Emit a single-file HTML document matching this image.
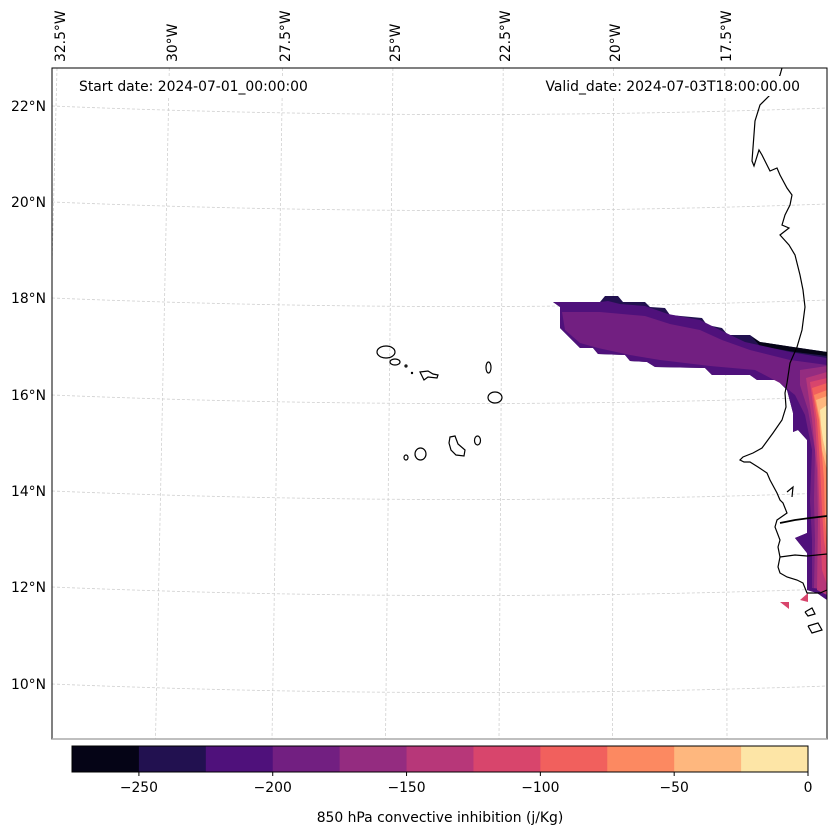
<!DOCTYPE html>
<html><head><meta charset="utf-8"><style>
html,body{margin:0;padding:0;background:#fff}
svg{display:block;font-family:"DejaVu Sans","Liberation Sans",sans-serif}
</style></head><body>
<svg width="837" height="836" viewBox="0 0 837 836">
<defs><clipPath id="pc"><rect x="52" y="68" width="775" height="671"/></clipPath></defs>
<rect x="0" y="0" width="837" height="836" fill="#fff"/>
<g id="grid" clip-path="url(#pc)" stroke="#d0d0d0" stroke-width="0.8" stroke-dasharray="3,2" fill="none"></g>
<g clip-path="url(#pc)">
 <polygon fill="#221150" points="553,302 600,302 605,296 618,296 623,302 645,302 650,307 665,308 670,315 702,318 707,325 722,328 728,335 750,335 760,342 793,347 827,352 827,600 817,593 807,590 807,553 795,538 807,533 807,440 798,430 793,432 793,413 787,390 777,380 757,380 750,375 712,375 705,368 655,367 647,362 630,361 625,355 598,354 593,348 580,348 560,328 560,307"/>
 <polygon fill="#050416" points="752,337 760,342 793,347 827,352 827,356 795,352 760,346"/>
 <polygon fill="#4f117b" points="553,302 600,302 608,301 620,304 645,306 668,314 700,320 720,330 745,342 790,352 827,358 827,600 817,593 807,590 807,553 795,538 807,533 807,440 798,430 793,432 793,413 787,390 777,380 757,380 750,375 712,375 705,368 655,367 647,362 630,361 625,355 598,354 593,348 580,348 560,328 560,307"/>
 <polygon fill="#721f81" points="562,312 600,312 645,316 670,324 700,330 722,340 750,350 790,360 827,365 827,590 812,588 812,540 810,500 812,450 805,415 795,395 780,383 755,370 710,366 660,360 630,355 598,348 580,343 565,330"/>
 <polygon fill="#942c80" points="800,370 827,366 827,590 814,588 815,540 814,500 815,450 808,410 800,385"/>
 <polygon fill="#b73779" points="806,378 827,372 827,595 817,590 818,520 817,470 812,420"/>
 <polygon fill="#d8456c" points="810,382 827,378 827,585 822,570 820,520 818,470 815,420"/>
 <polygon fill="#f1605d" points="812,388 827,383 827,560 824,540 822,510 820,465 817,420"/>
 <polygon fill="#fc8961" points="814,395 827,390 827,545 825,520 824,480 822,455 819,420"/>
 <polygon fill="#feb77e" points="816,400 827,396 827,470 822,450 820,420"/>
 <polygon fill="#fde5a6" points="820,410 827,405 827,458 823,440 821,425"/>
 <polygon fill="#d8456c" points="780,602 789,602 789,609"/>
 <polygon fill="#d8456c" points="800,600 808,593 808,602"/>
</g>
<g clip-path="url(#pc)" fill="none" stroke="#000" stroke-width="1.2">
 <polyline points="782,68 780,75 770,95 760,105 755,121 752,161 754,166 759,150 762,155 770,171 777,168 780,175 787,188 792,195 790,205 785,215 782,225 789,228 780,235 789,245 795,255 800,275 803,290 805,307 802,330 797,347 790,363 787,383 785,393 786,407 782,420 773,433 762,448 753,453 743,457 740,460 744,462 750,462 758,467 767,473 770,480 777,493 780,500 783,503 787,513 777,520 775,527 780,540 778,547 780,557 778,567 780,573 787,577 797,580 803,583 807,593 820,593 827,590"/>
 <polyline points="780,523 795,520 810,518 827,516" stroke-width="1.8"/>
 <polyline points="780,557 795,555 807,556 827,554"/>
 <polyline points="805,612 812,608 815,614 808,616 805,612"/>
 <polyline points="808,626 818,623 822,630 812,633 808,626"/>
 <polyline points="787,492 793,487 792,497"/>
 <ellipse cx="386" cy="352" rx="9" ry="6"/>
 <ellipse cx="395" cy="362" rx="5" ry="3"/>
 <circle cx="406" cy="366" r="1"/>
 <circle cx="412" cy="373" r="0.6"/>
 <polygon points="420,372 428,371 433,374 438,375 437,378 428,377 424,380"/>
 <ellipse cx="488.5" cy="367.5" rx="2.5" ry="5.5"/>
 <ellipse cx="495" cy="397.5" rx="7" ry="5.5"/>
 <ellipse cx="477.5" cy="440.5" rx="3" ry="4.5"/>
 <polygon points="450,437 455,436 458,444 465,450 464,456 456,455 451,450 449,443"/>
 <ellipse cx="420.5" cy="454" rx="5.5" ry="6"/>
 <ellipse cx="406" cy="457.5" rx="2" ry="2.5"/>
</g>
<rect x="52" y="68" width="775" height="671" fill="none" stroke="#000" stroke-width="1"/>
<line x1="52" y1="739" x2="827" y2="739" stroke="#aaa" stroke-width="1.5"/>
<g font-size="13.9" fill="#000">
 <rect x="72" y="76" width="242" height="20" fill="#fff"/>
 <rect x="540" y="76" width="265" height="20" fill="#fff"/>
 <text x="79" y="91">Start date: 2024-07-01_00:00:00</text>
 <text x="800" y="91" text-anchor="end">Valid_date: 2024-07-03T18:00:00.00</text>
</g>
<g id="lonlabels" font-size="13.9"></g>
<g id="latlabels" font-size="13.9"></g>
<g id="cbar"></g>
<text x="440" y="822" font-size="13.9" text-anchor="middle">850 hPa convective inhibition (j/Kg)</text>
</svg>
<script>
const lonLabels=["32.5°W","30°W","27.5°W","25°W","22.5°W","20°W","17.5°W"];
const lonLabelX=[60,172,285,395,505,615,726];
const latLabels=["22°N","20°N","18°N","16°N","14°N","12°N","10°N"];
const latLabelY=[106,202,298,395,491,587,684];
const levels=[-275,-250,-225,-200,-175,-150,-125,-100,-75,-50,-25,0];
const levelColors=["#050416","#221150","#4f117b","#721f81","#942c80","#b73779","#d8456c","#f1605d","#fc8961","#feb77e","#fde5a6"];
const cbTicks=[-250,-200,-150,-100,-50,0];
const NS="http://www.w3.org/2000/svg";
function mk(t,a){const e=document.createElementNS(NS,t);for(const k in a)e.setAttribute(k,a[k]);return e;}
const grid=document.getElementById('grid');
lonLabelX.forEach((x,i)=>{
 const l=mk('line',{x1:x-3+i*0.3,y1:68,x2:x-3-(17-i*3.5),y2:739});
 
 
 grid.appendChild(l);
 const t=mk('text',{x:0,y:0,transform:`translate(${x+5},62) rotate(-90)`});
 
 
 t.textContent=lonLabels[i];
 document.getElementById('lonlabels').appendChild(t);
});
latLabelY.forEach((y,i)=>{
 const p=mk('path',{d:`M52 ${y} Q440 ${y+16} 827 ${y+2}`});
 
 
 grid.appendChild(p);
 const t=mk('text',{x:46,y:y+5,'text-anchor':'end'});
 
 
 t.textContent=latLabels[i];
 document.getElementById('latlabels').appendChild(t);
});
const cb=document.getElementById('cbar');
const cx0=72,cx1=808,cy=746,ch=26;
function sx(v){return cx0+(v-levels[0])/(levels[levels.length-1]-levels[0])*(cx1-cx0);}
levelColors.forEach((c,i)=>{
 const r=mk('rect',{x:sx(levels[i]),y:cy,width:sx(levels[i+1])-sx(levels[i])+0.5,height:ch,fill:c});
 
 
 cb.appendChild(r);
});
cb.appendChild(mk('rect',{x:cx0,y:cy,width:cx1-cx0,height:ch,fill:'none',stroke:'#000','stroke-width':1}));
cbTicks.forEach(v=>{
 const x=sx(v);
 cb.appendChild(mk('line',{x1:x,y1:cy+ch,x2:x,y2:cy+ch+4,stroke:'#000'}));
 const t=mk('text',{x:x,y:cy+ch+20,'font-size':13.9,'text-anchor':'middle'});
 
 
 t.textContent=v<0?'\u2212'+Math.abs(v):String(v);
 cb.appendChild(t);
});
</script>
</body></html>
